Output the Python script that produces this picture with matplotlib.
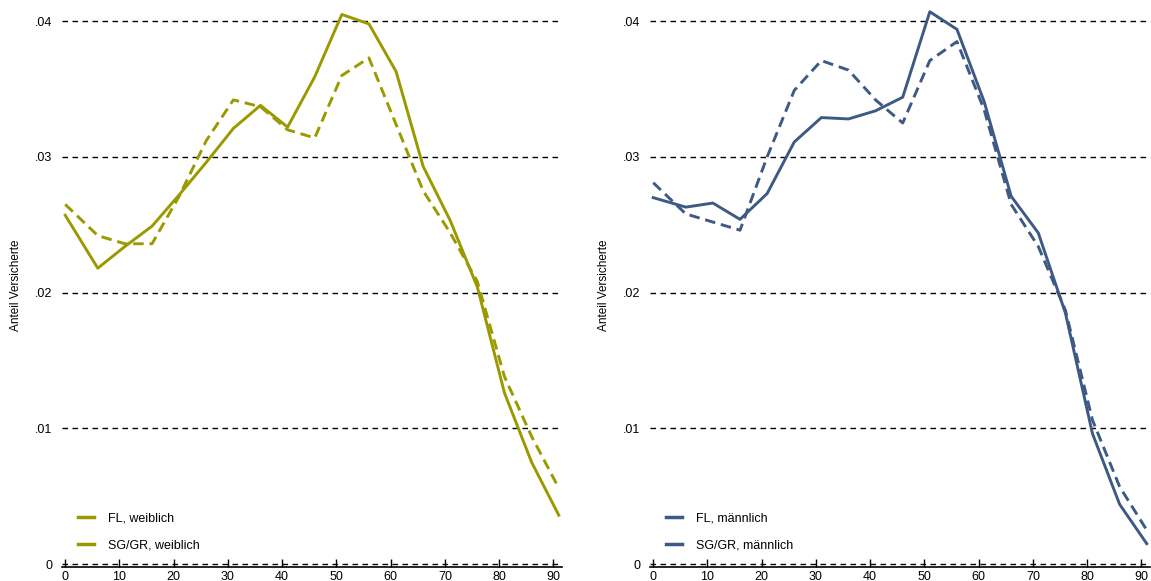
import matplotlib.pyplot as plt
import matplotlib.ticker as mticker

plt.rcParams['font.family'] = ['Liberation Sans', 'DejaVu Sans']

# age points
alter = [0, 6, 11, 16, 21, 26, 31, 36, 41, 46, 51, 56, 61, 66, 71, 76, 81, 86, 91]

fl_w = [0.0257, 0.0218, 0.0234, 0.0249, 0.0272, 0.0296, 0.0321, 0.0338, 0.0322, 0.0359,
        0.0405, 0.0398, 0.0363, 0.0293, 0.0253, 0.0204, 0.0126, 0.0075, 0.0036]
sg_w = [0.0265, 0.0242, 0.0236, 0.0236, 0.0271, 0.0312, 0.0342, 0.0337, 0.0320, 0.0314,
        0.0360, 0.0373, 0.0324, 0.0275, 0.0244, 0.0208, 0.0138, 0.0094, 0.0056]

fl_m = [0.0270, 0.0263, 0.0266, 0.0254, 0.0273, 0.0311, 0.0329, 0.0328, 0.0334, 0.0344,
        0.0407, 0.0394, 0.0341, 0.0271, 0.0244, 0.0185, 0.0096, 0.0044, 0.0015]
sg_m = [0.0281, 0.0258, 0.0252, 0.0246, 0.0300, 0.0349, 0.0371, 0.0364, 0.0342, 0.0325,
        0.0371, 0.0385, 0.0335, 0.0265, 0.0234, 0.0187, 0.0106, 0.0057, 0.0025]

olive = '#9a9a00'
navy = '#3d5a85'

fig = plt.figure(figsize=(11.51, 5.81), dpi=100)
ax1 = fig.add_axes([62 / 1151, 14 / 581, 500 / 1151, 563 / 581])
ax2 = fig.add_axes([650 / 1151, 14 / 581, 500 / 1151, 563 / 581])


def panel(ax, fl, sg, col, lab):
    ax.plot(alter, fl, color=col, lw=2.1, label='FL, ' + lab)
    ax.plot(alter, sg, color=col, lw=2.1, ls=(0, (3.6, 2.0)), label='SG/GR, ' + lab)
    ax.set_xlim(-0.6, 91.6)
    ax.set_ylim(-0.00022, 0.04127)
    ax.set_xticks(range(0, 91, 10))
    ax.set_yticks([0, 0.01, 0.02, 0.03, 0.04])
    ax.yaxis.set_major_formatter(mticker.FuncFormatter(
        lambda v, p: '0' if v == 0 else ('%.2f' % v).lstrip('0')))
    for y in [0, 0.01, 0.02, 0.03, 0.04]:
        ax.axhline(y, color='black', lw=1, ls=(0, (4, 3.2)), zorder=0)
    for s in ['top', 'right', 'left']:
        ax.spines[s].set_visible(False)
    ax.spines['bottom'].set_linewidth(1.2)
    ax.tick_params(axis='y', length=0, labelsize=9, pad=7)
    ax.tick_params(axis='x', direction='in', length=6, width=1, labelsize=9, pad=3)
    ax.set_ylabel('Anteil Versicherte', fontsize=8.5, labelpad=9)
    leg = ax.legend(loc='lower left', bbox_to_anchor=(0.0, 0.0), frameon=False,
                    fontsize=9, handlelength=1.3, handletextpad=1.1, labelspacing=1.2,
                    borderaxespad=0.85)
    for h in leg.get_lines():
        h.set_linestyle('-')
        h.set_linewidth(2.5)


panel(ax1, fl_w, sg_w, olive, 'weiblich')
panel(ax2, fl_m, sg_m, navy, 'männlich')

fig.savefig('out.png', dpi=100)
